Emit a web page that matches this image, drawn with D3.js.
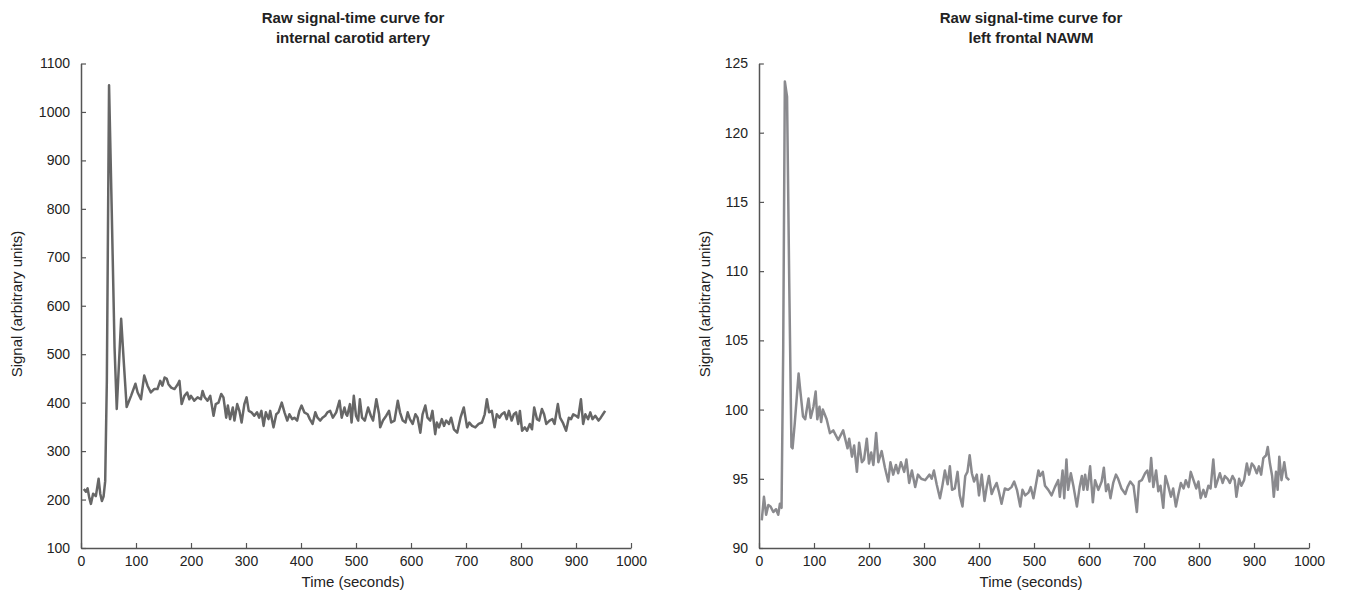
<!DOCTYPE html>
<html>
<head>
<meta charset="utf-8">
<script src="https://cdn.jsdelivr.net/npm/d3@7"></script>
<style>
  body { margin: 0; background: #fff; }
  svg { display: block; font-family: "Liberation Sans", Arial, Helvetica, sans-serif; }
</style>
</head>
<body>
<div id="chart"></div>
<script>
// internal carotid artery
const icaTime = [5, 9, 12, 15, 18, 22, 27, 32, 35, 38, 41, 44, 47, 51, 56, 61, 65, 69, 73, 78,
  83, 91, 99, 103, 109, 115, 121, 127, 133, 139, 144, 148, 152, 156, 159, 164, 170, 176, 179, 183,
  188, 193, 197, 200, 206, 212, 218, 221, 225, 230, 235, 241, 245, 250, 255, 259, 264, 267, 271, 276,
  279, 284, 288, 292, 297, 301, 305, 310, 315, 320, 324, 328, 332, 336, 341, 344, 350, 355, 359, 365,
  370, 375, 379, 384, 388, 393, 397, 401, 406, 412, 416, 421, 426, 430, 435, 439, 444, 448, 453, 458,
  464, 470, 474, 479, 482, 484, 489, 492, 496, 500, 504, 507, 511, 516, 522, 527, 531, 537, 542, 544,
  549, 555, 560, 564, 570, 576, 580, 585, 590, 594, 598, 603, 608, 612, 617, 621, 626, 630, 635, 639,
  644, 647, 651, 656, 660, 664, 669, 673, 678, 684, 690, 696, 702, 706, 711, 717, 723, 729, 734, 738,
  742, 747, 752, 756, 761, 765, 770, 774, 778, 783, 787, 791, 795, 798, 802, 807, 811, 816, 820, 824,
  829, 833, 838, 842, 846, 852, 857, 861, 867, 871, 876, 882, 887, 891, 895, 900, 904, 909, 913, 917,
  922, 926, 930, 935, 941, 945, 949, 953];
const icaSignal = [222, 216, 223, 204, 191, 212, 207, 243, 212, 197, 206, 238, 445, 1055, 790, 514, 387, 480, 573, 480,
  391, 414, 439, 421, 407, 456, 435, 421, 428, 428, 445, 435, 452, 449, 438, 431, 428, 438, 445, 397,
  414, 421, 407, 414, 404, 411, 407, 424, 411, 404, 414, 373, 397, 400, 418, 411, 369, 394, 366, 390,
  363, 397, 383, 359, 397, 411, 383, 380, 373, 380, 369, 383, 352, 380, 366, 383, 349, 376, 380, 400,
  380, 363, 376, 366, 369, 363, 383, 394, 380, 376, 366, 356, 380, 369, 363, 369, 373, 380, 383, 369,
  380, 404, 369, 390, 376, 373, 397, 359, 414, 373, 363, 407, 369, 363, 390, 373, 363, 407, 376, 349,
  363, 373, 383, 359, 363, 404, 380, 363, 359, 380, 366, 356, 376, 369, 338, 376, 394, 369, 363, 383,
  335, 359, 349, 366, 352, 363, 356, 369, 345, 338, 369, 390, 349, 359, 352, 349, 356, 359, 376, 407,
  380, 383, 349, 376, 369, 376, 380, 366, 383, 363, 376, 380, 356, 383, 342, 349, 342, 356, 345, 390,
  366, 363, 387, 376, 356, 363, 366, 356, 397, 369, 359, 342, 369, 366, 376, 373, 369, 407, 356, 376,
  366, 380, 366, 373, 363, 369, 376, 383];

// left frontal NAWM
const nawmTime = [5, 9, 13, 17, 21, 26, 31, 35, 38, 41, 44, 47, 51, 55, 59, 61, 65, 72, 75, 80,
  84, 90, 94, 99, 103, 106, 110, 113, 116, 123, 129, 135, 144, 153, 161, 164, 169, 173, 178, 182,
  187, 191, 196, 200, 204, 208, 213, 217, 223, 229, 235, 239, 244, 249, 253, 258, 264, 268, 273, 278,
  284, 289, 295, 302, 310, 314, 318, 323, 329, 333, 338, 343, 347, 351, 356, 361, 365, 370, 375, 379,
  383, 387, 391, 396, 400, 405, 410, 414, 418, 423, 427, 432, 436, 441, 447, 453, 459, 464, 469, 475,
  479, 484, 490, 494, 499, 504, 508, 511, 516, 520, 526, 532, 538, 544, 547, 552, 555, 559, 562, 567,
  572, 578, 583, 587, 590, 593, 597, 602, 607, 611, 617, 623, 627, 631, 635, 639, 644, 649, 653, 659,
  666, 670, 675, 681, 687, 691, 696, 702, 706, 710, 713, 717, 722, 726, 730, 735, 739, 744, 749, 753,
  758, 762, 767, 772, 776, 781, 785, 790, 795, 799, 803, 808, 812, 817, 821, 826, 830, 834, 838, 843,
  847, 852, 856, 861, 865, 868, 873, 877, 882, 887, 891, 896, 900, 905, 909, 913, 917, 922, 925, 929,
  933, 936, 940, 943, 946, 950, 955, 959, 964];
const nawmSignal = [92.0, 93.7, 92.4, 93.1, 93.0, 92.6, 92.8, 92.4, 93.2, 92.9, 104.3, 123.7, 122.6, 109.1, 97.3, 97.2, 99.0, 102.6, 101.4, 99.5,
  99.3, 100.8, 99.4, 100.2, 101.3, 99.3, 100.2, 99.1, 100.0, 99.3, 98.3, 98.5, 97.8, 98.5, 97.2, 97.9, 96.6, 97.4, 95.5, 97.6,
  96.2, 96.4, 97.9, 96.1, 96.9, 96.0, 98.3, 96.2, 97.0, 95.8, 94.8, 96.2, 95.3, 96.0, 95.4, 96.2, 95.5, 96.4, 94.7, 95.6,
  94.4, 95.3, 95.0, 94.9, 95.3, 95.0, 95.6, 94.6, 93.6, 94.4, 95.6, 94.6, 95.9, 94.2, 94.3, 95.5, 93.8, 93.0, 95.2, 95.5,
  96.7, 95.4, 94.8, 95.3, 93.8, 95.3, 93.4, 94.4, 95.2, 93.9, 94.3, 94.7, 94.1, 93.2, 94.3, 94.2, 94.4, 94.8, 94.2, 93.0,
  94.2, 93.8, 94.0, 94.4, 93.6, 94.7, 95.6, 95.2, 95.5, 94.5, 94.2, 93.8, 94.4, 94.9, 93.7, 95.6, 93.6, 96.4, 94.2, 95.4,
  94.4, 93.0, 94.4, 95.2, 94.2, 95.3, 94.2, 95.9, 93.3, 94.9, 94.2, 94.8, 95.8, 94.1, 94.6, 93.6, 94.7, 95.3, 95.0, 94.3,
  93.9, 94.4, 94.8, 94.5, 92.6, 94.8, 94.9, 95.4, 95.6, 94.8, 96.5, 94.4, 95.6, 94.1, 94.5, 92.9, 95.2, 94.5, 93.7, 94.3,
  93.0, 93.8, 94.7, 94.3, 94.9, 94.4, 95.5, 94.9, 94.3, 94.8, 93.6, 94.2, 93.7, 94.5, 94.3, 96.4, 94.4, 94.9, 95.4, 94.7,
  95.2, 95.0, 94.7, 95.2, 94.9, 93.7, 95.0, 94.5, 94.9, 96.1, 95.3, 96.1, 95.9, 95.4, 95.9, 95.3, 96.5, 96.7, 97.3, 96.1,
  95.2, 93.7, 95.5, 94.2, 96.6, 94.9, 96.2, 95.1, 94.9];

const timeTicks = [0, 100, 200, 300, 400, 500, 600, 700, 800, 900, 1000];
const icaTicks = [100, 200, 300, 400, 500, 600, 700, 800, 900, 1000, 1100];
const nawmTicks = [90, 95, 100, 105, 110, 115, 120, 125];

const width = 1346, height = 604;
const svg = d3.select("#chart").append("svg")
  .attr("width", width)
  .attr("height", height);

function drawPanel(opts) {
  const x = d3.scaleLinear().domain([0, 1000]).range([opts.left, opts.left + 550]);
  const y = d3.scaleLinear().domain(opts.yDomain).range([548, 63.5]);
  const g = svg.append("g");
  const axisColor = "#555";
  const fmt = d3.format("d");

  const xAxis = g.append("g")
    .attr("transform", "translate(0,548)")
    .call(d3.axisBottom(x).tickValues(timeTicks).tickFormat(fmt)
      .tickSizeInner(-5).tickSizeOuter(0).tickPadding(8));
  const yAxis = g.append("g")
    .attr("transform", `translate(${opts.left},0)`)
    .call(d3.axisLeft(y).tickValues(opts.ticks).tickFormat(fmt)
      .tickSizeInner(-5).tickSizeOuter(0).tickPadding(11));

  [xAxis, yAxis].forEach(a => {
    a.select(".domain").attr("stroke", axisColor).attr("stroke-width", 1.5);
    a.selectAll(".tick line").attr("stroke", axisColor).attr("stroke-width", 1.2);
    a.selectAll(".tick text").attr("fill", "#222").style("font-size", "14px");
  });

  const line = d3.line()
    .x((d, i) => x(opts.time[i]))
    .y(d => y(d));

  g.append("path")
    .datum(opts.values)
    .attr("d", line)
    .attr("fill", "none")
    .attr("stroke", opts.color)
    .attr("stroke-width", 2.5)
    .attr("stroke-linejoin", "round");

  const cx = opts.left + 272;
  g.append("text")
    .attr("x", cx).attr("y", 23)
    .attr("text-anchor", "middle")
    .style("font-size", "15px").style("font-weight", "bold").attr("fill", "#222")
    .text(opts.title[0]);
  g.append("text")
    .attr("x", cx).attr("y", 43)
    .attr("text-anchor", "middle")
    .style("font-size", "15px").style("font-weight", "bold").attr("fill", "#222")
    .text(opts.title[1]);

  g.append("text")
    .attr("x", cx).attr("y", 587)
    .attr("text-anchor", "middle")
    .style("font-size", "15px").attr("fill", "#222")
    .text("Time (seconds)");

  g.append("text")
    .attr("transform", `translate(${opts.labelX},304) rotate(-90)`)
    .attr("text-anchor", "middle")
    .style("font-size", "15px").attr("fill", "#222")
    .text("Signal (arbitrary units)");
}

drawPanel({
  left: 81,
  labelX: 22,
  yDomain: [100, 1100],
  ticks: icaTicks,
  time: icaTime,
  values: icaSignal,
  color: "#666666",
  title: ["Raw signal-time curve for", "internal carotid artery"]
});

drawPanel({
  left: 759,
  labelX: 710,
  yDomain: [90, 125],
  ticks: nawmTicks,
  time: nawmTime,
  values: nawmSignal,
  color: "#8a8a8e",
  title: ["Raw signal-time curve for", "left frontal NAWM"]
});
</script>
</body>
</html>
